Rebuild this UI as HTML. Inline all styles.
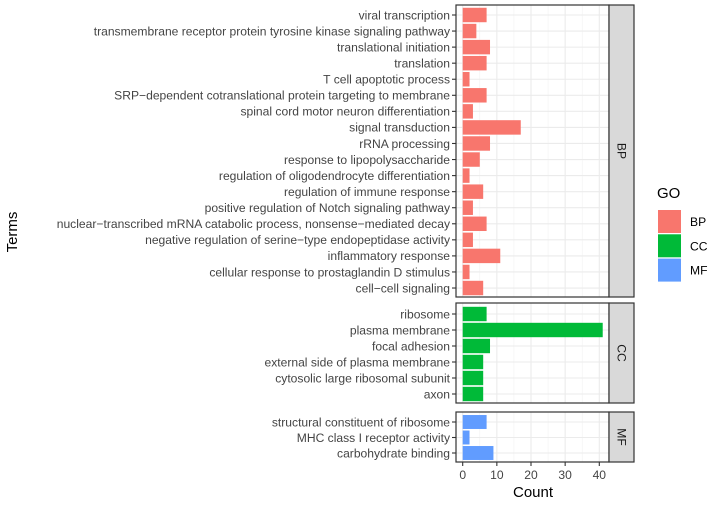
<!DOCTYPE html>
<html><head><meta charset="utf-8"><style>
body{margin:0;background:#fff;}
svg text{font-family:"Liberation Sans",Arial,sans-serif;}
</style></head><body>
<svg id="c" width="708" height="501" xmlns="http://www.w3.org/2000/svg"></svg>
<script>
const bpTerms=["viral transcription","transmembrane receptor protein tyrosine kinase signaling pathway","translational initiation","translation","T cell apoptotic process","SRP\u2212dependent cotranslational protein targeting to membrane","spinal cord motor neuron differentiation","signal transduction","rRNA processing","response to lipopolysaccharide","regulation of oligodendrocyte differentiation","regulation of immune response","positive regulation of Notch signaling pathway","nuclear\u2212transcribed mRNA catabolic process, nonsense\u2212mediated decay","negative regulation of serine\u2212type endopeptidase activity","inflammatory response","cellular response to prostaglandin D stimulus","cell\u2212cell signaling"];
const bpCounts=[7,4,8,7,2,7,3,17,8,5,2,6,3,7,3,11,2,6];
const ccTerms=["ribosome","plasma membrane","focal adhesion","external side of plasma membrane","cytosolic large ribosomal subunit","axon"];
const ccCounts=[7,41,8,6,6,6];
const mfTerms=["structural constituent of ribosome","MHC class I receptor activity","carbohydrate binding"];
const mfCounts=[7,2,9];
const xTicks=[0,10,20,30,40];
const NS="http://www.w3.org/2000/svg";
const svg=document.getElementById('c');
function mk(t,a,p){const e=document.createElementNS(NS,t);for(const k in a)e.setAttribute(k,a[k]);(p||svg).appendChild(e);return e;}
const x0=462.7,xs=3.415;
const X=v=>x0+v*xs;
const PL=456,PR=609;
const panels=[
 {name:"BP",terms:bpTerms,counts:bpCounts,top:5,bot:297,first:15,step:16.06,col:"#F8766D"},
 {name:"CC",terms:ccTerms,counts:ccCounts,top:303,bot:403,first:314,step:16,col:"#00BA38"},
 {name:"MF",terms:mfTerms,counts:mfCounts,top:412,bot:462,first:422,step:15.5,col:"#619CFF"}];
panels.forEach(p=>{
 const g=mk('g',{});
 
 
 mk('rect',{x:PL,y:p.top,width:PR-PL,height:p.bot-p.top,fill:'#fff'},g);
 for(let v=5;v<=40;v+=10)mk('line',{x1:X(v),x2:X(v),y1:p.top,y2:p.bot,stroke:'#f2f2f2','stroke-width':0.6},g);
 xTicks.forEach(v=>mk('line',{x1:X(v),x2:X(v),y1:p.top,y2:p.bot,stroke:'#ebebeb','stroke-width':1.1},g));
 p.terms.forEach((t,i)=>{const y=p.first+i*p.step;
  mk('line',{x1:PL,x2:PR,y1:y,y2:y,stroke:'#ebebeb','stroke-width':1.1},g);});
 p.terms.forEach((t,i)=>{const y=p.first+i*p.step;
  const b=mk('rect',{x:X(0),y:y-p.step*0.45,width:X(p.counts[i])-X(0),height:p.step*0.9,fill:p.col},g);
  
  
  mk('line',{x1:PL-4,x2:PL,y1:y,y2:y,stroke:'#333','stroke-width':1.1},g);
  const tx=mk('text',{x:PL-6,y:y+4.3,'text-anchor':'end','font-size':12.1,fill:'#444'},g);tx.textContent=t;
  
  
 });
 mk('rect',{x:PL,y:p.top,width:PR-PL,height:p.bot-p.top,fill:'none',stroke:'#333','stroke-width':1.2},g);
 const s=mk('rect',{x:PR,y:p.top,width:25,height:p.bot-p.top,fill:'#d9d9d9',stroke:'#333','stroke-width':1.2},g);
 
 
 const cy=(p.top+p.bot)/2;
 const st=mk('text',{x:PR+12.5,y:cy,'text-anchor':'middle','font-size':12.1,fill:'#1a1a1a',transform:`rotate(90 ${PR+12.5} ${cy})`,'dominant-baseline':'central'},g);st.textContent=p.name;
});
const ax=mk('g',{});


xTicks.forEach(v=>{mk('line',{x1:X(v),x2:X(v),y1:462,y2:466,stroke:'#333','stroke-width':1.1},ax);
 const t=mk('text',{x:X(v),y:479,'text-anchor':'middle','font-size':12.1,fill:'#444'},ax);t.textContent=v;});
const xt=mk('text',{x:533,y:497,'text-anchor':'middle','font-size':15,fill:'#000'});xt.textContent='Count';


const yt=mk('text',{x:17,y:232,'text-anchor':'middle','font-size':15,fill:'#000',transform:'rotate(-90 17 232)'});yt.textContent='Terms';


const lg=mk('g',{});


const lt=mk('text',{x:657,y:198,'font-size':15,fill:'#000'},lg);lt.textContent='GO';
panels.forEach((p,i)=>{const y=210+i*24.3;
 const e=mk('rect',{x:658,y:y,width:23,height:23,fill:p.col},lg);
 
 
 const t=mk('text',{x:690,y:y+16,'font-size':12.1,fill:'#000'},lg);t.textContent=p.name;});
</script>
</body></html>
